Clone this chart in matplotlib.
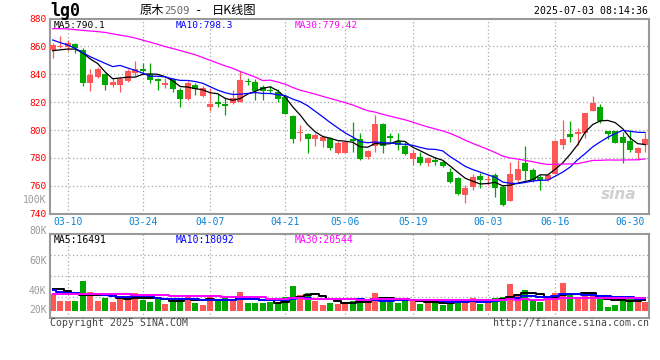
import matplotlib
matplotlib.use('Agg')

import numpy as np
import pandas as pd
import matplotlib.pyplot as plt

# Daily bars of lg0 (原木2509), 2025-03-06 .. 2025-07-02
opens = [857.4, 859.8, 859.8, 861.7, 857.4, 834.0, 838.3, 840.2, 832.3, 832.0,
         835.5, 841.2, 844.0, 840.2, 836.4, 832.0, 836.6, 828.7, 822.0, 832.3,
         824.4, 816.3, 820.1, 818.7, 819.6, 820.3, 835.4, 834.7, 830.6, 828.7,
         827.5, 823.9, 810.1, 798.1, 797.1, 793.3, 792.4, 794.0, 783.3, 783.8,
         793.8, 793.3, 780.4, 788.5, 804.3, 795.7, 792.1, 788.5, 779.0, 780.9,
         776.6, 778.5, 777.3, 770.1, 765.3, 753.4, 759.4, 767.0, 764.2, 767.7,
         758.9, 749.3, 764.2, 776.6, 771.3, 766.5, 764.2, 768.5, 789.3, 797.2,
         796.9, 797.6, 813.9, 816.3, 799.5, 799.5, 795.2, 792.4, 783.8, 789.3]
highs = [862.6, 867.5, 864.6, 862.5, 858.5, 843.5, 845.5, 841.0, 837.1, 838.0,
         844.0, 849.8, 847.8, 847.8, 837.5, 837.0, 837.5, 830.0, 835.0, 833.5,
         831.5, 829.9, 826.0, 823.9, 828.7, 842.6, 837.1, 836.5, 832.3, 831.5,
         829.2, 825.0, 811.0, 803.6, 797.6, 797.6, 796.5, 795.0, 792.5, 792.0,
         806.0, 797.6, 785.7, 810.8, 805.0, 797.6, 798.1, 791.5, 785.7, 784.5,
         780.9, 780.9, 778.5, 772.5, 766.0, 760.6, 768.2, 768.9, 767.7, 768.9,
         760.6, 777.3, 778.5, 788.5, 772.5, 767.7, 769.4, 792.8, 807.2, 806.5,
         801.2, 812.5, 824.4, 818.7, 799.5, 799.5, 798.8, 800.0, 787.5, 797.6]
lows = [852.0, 858.6, 856.5, 855.5, 831.8, 827.8, 837.0, 828.5, 831.1, 827.5,
        834.5, 838.5, 840.0, 833.5, 828.7, 830.0, 827.5, 816.8, 821.5, 825.0,
        823.5, 813.9, 816.5, 810.8, 819.0, 820.0, 832.3, 821.5, 821.5, 826.3,
        820.3, 811.5, 790.5, 792.4, 783.8, 788.5, 788.0, 786.0, 782.5, 783.3,
        784.5, 778.5, 779.5, 784.5, 783.3, 790.5, 785.7, 782.0, 774.9, 774.9,
        774.0, 774.9, 773.7, 762.2, 753.4, 747.9, 757.0, 758.2, 760.6, 752.2,
        745.5, 749.3, 763.7, 764.2, 763.0, 757.0, 763.7, 768.5, 786.2, 791.7,
        789.3, 794.0, 813.9, 804.8, 793.3, 790.5, 776.1, 784.5, 778.5, 784.5]
closes = [861.0, 860.5, 862.7, 858.6, 834.0, 839.3, 843.8, 832.3, 834.7, 836.5,
          842.5, 843.8, 842.6, 835.9, 835.0, 834.0, 829.2, 822.0, 834.0, 829.2,
          829.9, 818.7, 818.4, 817.2, 822.7, 835.9, 834.7, 828.2, 828.2, 828.0,
          822.0, 811.8, 793.3, 798.8, 793.3, 796.4, 795.2, 786.9, 790.5, 791.2,
          792.4, 779.0, 785.2, 804.3, 788.5, 794.0, 789.3, 782.8, 783.8, 776.1,
          780.2, 777.3, 774.2, 763.0, 754.1, 758.7, 766.5, 764.2, 764.9, 758.2,
          746.2, 768.5, 771.8, 770.9, 764.2, 764.2, 767.7, 792.4, 793.6, 795.2,
          798.8, 812.5, 819.6, 806.7, 796.9, 790.9, 790.9, 785.7, 786.9, 793.6]
volumes = [30900, 18500, 18500, 18500, 54900, 35200, 18500, 24000, 16600, 20900,
           24600, 32000, 19800, 16600, 24000, 12400, 16600, 24000, 29000, 14800,
           10500, 29000, 19800, 24600, 19800, 35200, 14800, 14800, 14800, 16600,
           13500, 24600, 45700, 29000, 33300, 18500, 10500, 14800, 12400, 13500,
           18500, 24000, 16600, 33300, 24600, 19800, 14800, 19800, 19800, 12400,
           13500, 16600, 10500, 16600, 20900, 20900, 24000, 12400, 18500, 24000,
           25900, 49400, 30900, 38300, 20900, 16600, 19400, 33300, 51800, 30900,
           22900, 27200, 27200, 27200, 7400, 10500, 22900, 22900, 22900, 16600]

# averages for the first bars on screen (history before 03-06 is not shown)
ma5_head = [856.9, 857.5, 858.1, 858.1]
ma10_head = [864.6, 862.7, 861.0, 858.6, 855.5, 852.6, 850.2, 847.8, 845.5]
ma30_head = [872.7, 872.7, 872.5, 872.0, 871.5, 871.0, 870.6, 870.0, 869.0, 868.0,
             867.2, 866.0, 864.5, 863.0, 861.5, 859.8, 858.5, 857.0, 855.5, 854.0,
             852.0, 850.0, 848.0, 846.0, 844.3, 842.0, 840.0, 838.0, 835.5]
vma5_head = [39600, 39600, 35900, 33300]
vma10_head = [38300, 35200, 33300, 32200, 31500, 30900, 30900, 29600, 27200]
vma30_head = [30900, 30900, 30900, 30900, 30900, 30900, 30900, 30900, 30900, 30900,
              30900, 29000, 29000, 29000, 29000, 29000, 27200, 27200, 27200, 27200,
              27200, 27200, 27200, 25300, 25300, 25300, 25300, 25300, 25300]

tick_idx = [2, 12, 21, 31, 39, 48, 58, 67, 77]
tick_labels = ['03-10', '03-24', '04-07', '04-21', '05-06', '05-19', '06-03', '06-16', '06-30']
price_ticks = [740, 760, 780, 800, 820, 840, 860, 880]

RED = '#ff5656'
GREEN = '#00a800'
GRID = '#a8a8a8'
MONO = 'DejaVu Sans Mono'
CJK = ['Noto Sans CJK SC', 'DejaVu Sans']
W, H = 660, 360


def moving_avg(values, n, head):
    """ Rolling mean, with the leading values taken from the chart. """
    s = pd.Series(values, dtype=float).rolling(n).mean()
    s.iloc[:n - 1] = head
    return s.values


def px(x, y):
    """ Pixel position -> figure fraction. """
    return x / W, 1 - y / H


o = np.array(opens)
h = np.array(highs)
l = np.array(lows)
c = np.array(closes)
v = np.array(volumes)
idx = np.arange(len(c))
up = c >= o
cols = np.where(up, RED, GREEN)

fig = plt.figure(figsize=(6.6, 3.6), dpi=100)
ax = fig.add_axes([50 / W, 1 - 213.7 / H, 599.3 / W, 195.2 / H])
axv = fig.add_axes([50 / W, 1 - 318 / H, 599.3 / W, 84 / H])

for a in (ax, axv):
    a.set_xlim(-0.36, 79.55)
    for s in a.spines.values():
        s.set_color('#999999')
        s.set_linewidth(1.5)
    for t in tick_idx[:-1]:
        a.axvline(t, color=GRID, lw=0.9, ls=(0, (1, 2)), zorder=0)

# Candles
ax.vlines(idx, l, h, colors=cols, lw=0.9, zorder=2)
ax.bar(idx, np.maximum(np.abs(c - o), 0.6), bottom=np.minimum(o, c), width=0.76,
       color=cols, lw=0, zorder=3)
ax.plot(idx, moving_avg(c, 5, ma5_head), color='black', lw=0.9, zorder=4)
ax.plot(idx, moving_avg(c, 10, ma10_head), color='#0000ff', lw=0.9, zorder=4)
ax.plot(idx, moving_avg(c, 30, ma30_head), color='#ff00ff', lw=0.9, zorder=4)

ax.set_ylim(740, 880)
ax.set_yticks(price_ticks)
ax.set_yticklabels([str(p) for p in price_ticks], color='#ff0000', fontsize=6.8, family=MONO)
for p in price_ticks[1:-1]:
    ax.axhline(p, color=GRID, lw=0.9, ls=(0, (1, 2)), zorder=0)
ax.set_xticks(tick_idx)
ax.set_xticklabels(tick_labels, color='#0a84d6', fontsize=7, family=MONO)
ax.tick_params(length=0, pad=2.5)

ax.text(0.006, 0.985, 'MA5:790.1', transform=ax.transAxes, fontsize=6.8, family=MONO,
        color='black', va='top')
ax.text(0.209, 0.985, 'MA10:798.3', transform=ax.transAxes, fontsize=6.8, family=MONO,
        color='#0000ff', va='top')
ax.text(0.409, 0.985, 'MA30:779.42', transform=ax.transAxes, fontsize=6.8, family=MONO,
        color='#ff00ff', va='top')
ax.text(0.978, 0.1, 'sina', transform=ax.transAxes, fontsize=11, color='#d0d0d0',
        style='italic', weight='bold', ha='right', va='center', zorder=1)

# Volume
axv.bar(idx, v, width=0.76, color=cols, lw=0, zorder=2)
axv.plot(idx, moving_avg(v, 5, vma5_head), color='black', lw=1.4, drawstyle='steps-mid', zorder=3)
axv.plot(idx, moving_avg(v, 10, vma10_head), color='#0000ff', lw=1.4, drawstyle='steps-mid', zorder=3)
axv.plot(idx, moving_avg(v, 30, vma30_head), color='#ff00ff', lw=1.4, drawstyle='steps-mid', zorder=3)
axv.set_ylim(-13500, 142000)
for yy in np.linspace(-13500, 142000, 5)[1:-1]:
    axv.axhline(yy, color=GRID, lw=0.9, ls=(0, (1, 2)), zorder=0)
axv.set_xticks([])
axv.set_yticks([])
axv.text(0.006, 0.985, 'MA5:16491', transform=axv.transAxes, fontsize=7, family=MONO,
         color='black', va='top')
axv.text(0.209, 0.985, 'MA10:18092', transform=axv.transAxes, fontsize=7, family=MONO,
         color='#0000ff', va='top')
axv.text(0.409, 0.985, 'MA30:20544', transform=axv.transAxes, fontsize=7, family=MONO,
         color='#ff00ff', va='top')

# volume scale labels as sina prints them
for lab, yy in [('100K', 200), ('80K', 230.7), ('60K', 261), ('40K', 290.5), ('20K', 310)]:
    fig.text(*px(46.5, yy), lab, color='#9a9a9a', fontsize=7, family=MONO, ha='right', va='center')

# Header and footer
fig.text(*px(50, 10.5), 'lg0', fontsize=12, weight='bold', family=MONO, va='center')
fig.text(*px(140, 10.5), '原木', fontsize=8.8, family=CJK, va='center')
fig.text(*px(164, 11), '2509', fontsize=7.6, family=MONO, color='#666666', va='center')
fig.text(*px(195, 10.5), '-', fontsize=8.8, family=MONO, va='center')
fig.text(*px(212, 10.5), '日K线图', fontsize=8.8, family=CJK, va='center')
fig.text(*px(648.5, 11), '2025-07-03 08:14:36', fontsize=7.1, family=MONO, ha='right', va='center')
fig.text(*px(50, 323.5), 'Copyright 2025 SINA.COM', fontsize=7.1, family=MONO, color='#444444', va='center')
fig.text(*px(649.5, 323.5), 'http://finance.sina.com.cn', fontsize=7.1, family=MONO, color='#444444',
         ha='right', va='center')

fig.savefig('out.png', dpi=100, facecolor='white')
